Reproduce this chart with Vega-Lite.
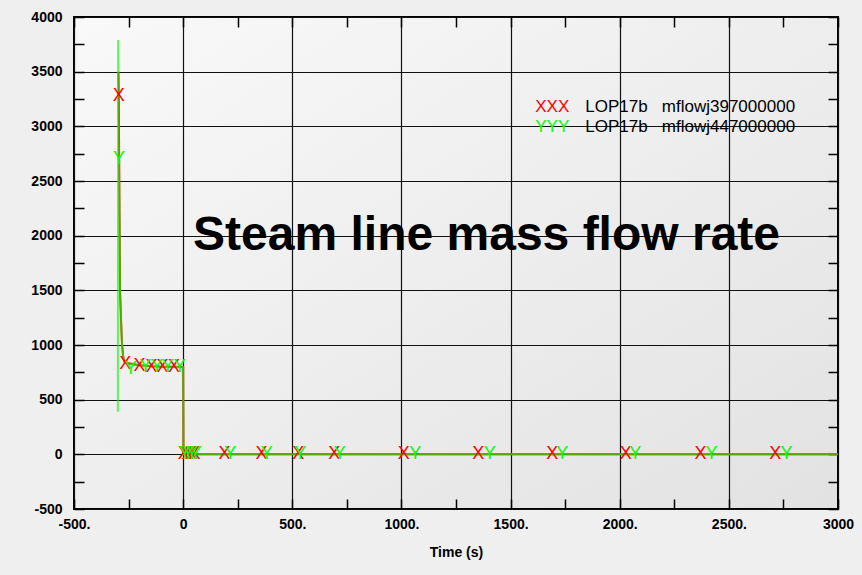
{
  "$schema": "https://vega.github.io/schema/vega-lite/v6.json",
  "width": 764,
  "height": 492,
  "autosize": "none",
  "padding": {"left": 74, "top": 17, "right": 24, "bottom": 66},
  "background": "#efefef",
  "config": {
    "font": "Liberation Sans",
    "view": {
      "stroke": "#000000",
      "strokeWidth": 2,
      "fill": {
        "gradient": "linear",
        "x1": 0, "y1": 0, "x2": 1, "y2": 1,
        "stops": [
          {"offset": 0, "color": "#f9f9f9"},
          {"offset": 1, "color": "#e2e2e2"}
        ]
      }
    }
  },
  "datasets": {
    "flow": [
      {"series": "mflowj397000000", "t": -296.5, "w": 3500},
      {"series": "mflowj397000000", "t": -295, "w": 3280},
      {"series": "mflowj397000000", "t": -289, "w": 1480},
      {"series": "mflowj397000000", "t": -284, "w": 1200},
      {"series": "mflowj397000000", "t": -280, "w": 1010},
      {"series": "mflowj397000000", "t": -275, "w": 900},
      {"series": "mflowj397000000", "t": -270, "w": 850},
      {"series": "mflowj397000000", "t": -257, "w": 835},
      {"series": "mflowj397000000", "t": -200, "w": 815},
      {"series": "mflowj397000000", "t": -145, "w": 805},
      {"series": "mflowj397000000", "t": -95, "w": 800},
      {"series": "mflowj397000000", "t": -42, "w": 800},
      {"series": "mflowj397000000", "t": 0, "w": 798},
      {"series": "mflowj397000000", "t": 1.5, "w": 0},
      {"series": "mflowj397000000", "t": 50, "w": 0},
      {"series": "mflowj397000000", "t": 500, "w": 0},
      {"series": "mflowj397000000", "t": 1000, "w": 0},
      {"series": "mflowj397000000", "t": 2000, "w": 0},
      {"series": "mflowj397000000", "t": 3000, "w": 0},
      {"series": "mflowj447000000", "t": -299, "w": 390},
      {"series": "mflowj447000000", "t": -298, "w": 3790},
      {"series": "mflowj447000000", "t": -296.5, "w": 3500},
      {"series": "mflowj447000000", "t": -294, "w": 2700},
      {"series": "mflowj447000000", "t": -289, "w": 1480},
      {"series": "mflowj447000000", "t": -284, "w": 1200},
      {"series": "mflowj447000000", "t": -280, "w": 1010},
      {"series": "mflowj447000000", "t": -275, "w": 900},
      {"series": "mflowj447000000", "t": -270, "w": 850},
      {"series": "mflowj447000000", "t": -240, "w": 825},
      {"series": "mflowj447000000", "t": -172, "w": 810},
      {"series": "mflowj447000000", "t": -120, "w": 803},
      {"series": "mflowj447000000", "t": -70, "w": 800},
      {"series": "mflowj447000000", "t": -15, "w": 799},
      {"series": "mflowj447000000", "t": 0, "w": 798},
      {"series": "mflowj447000000", "t": 1.5, "w": 0},
      {"series": "mflowj447000000", "t": 50, "w": 0},
      {"series": "mflowj447000000", "t": 500, "w": 0},
      {"series": "mflowj447000000", "t": 1000, "w": 0},
      {"series": "mflowj447000000", "t": 2000, "w": 0},
      {"series": "mflowj447000000", "t": 3000, "w": 0}
    ],
    "symbols": [
      {"series": "mflowj397000000", "sym": "X", "t": -295, "w": 3280},
      {"series": "mflowj397000000", "sym": "X", "t": -265, "w": 830},
      {"series": "mflowj397000000", "sym": "X", "t": -200, "w": 810},
      {"series": "mflowj397000000", "sym": "X", "t": -145, "w": 800},
      {"series": "mflowj397000000", "sym": "X", "t": -95, "w": 795},
      {"series": "mflowj397000000", "sym": "X", "t": -42, "w": 795},
      {"series": "mflowj397000000", "sym": "X", "t": 3, "w": 0},
      {"series": "mflowj397000000", "sym": "X", "t": 20, "w": 0},
      {"series": "mflowj397000000", "sym": "X", "t": 37, "w": 0},
      {"series": "mflowj397000000", "sym": "X", "t": 52, "w": 0},
      {"series": "mflowj397000000", "sym": "X", "t": 189, "w": 0},
      {"series": "mflowj397000000", "sym": "X", "t": 359, "w": 0},
      {"series": "mflowj397000000", "sym": "X", "t": 527, "w": 0},
      {"series": "mflowj397000000", "sym": "X", "t": 692, "w": 0},
      {"series": "mflowj397000000", "sym": "X", "t": 1011, "w": 0},
      {"series": "mflowj397000000", "sym": "X", "t": 1352, "w": 0},
      {"series": "mflowj397000000", "sym": "X", "t": 1691, "w": 0},
      {"series": "mflowj397000000", "sym": "X", "t": 2028, "w": 0},
      {"series": "mflowj397000000", "sym": "X", "t": 2370, "w": 0},
      {"series": "mflowj397000000", "sym": "X", "t": 2712, "w": 0},
      {"series": "mflowj447000000", "sym": "Y", "t": -294, "w": 2700},
      {"series": "mflowj447000000", "sym": "Y", "t": -240, "w": 780},
      {"series": "mflowj447000000", "sym": "Y", "t": -172, "w": 800},
      {"series": "mflowj447000000", "sym": "Y", "t": -120, "w": 798},
      {"series": "mflowj447000000", "sym": "Y", "t": -70, "w": 796},
      {"series": "mflowj447000000", "sym": "Y", "t": -15, "w": 795},
      {"series": "mflowj447000000", "sym": "Y", "t": 8, "w": 0},
      {"series": "mflowj447000000", "sym": "Y", "t": 25, "w": 0},
      {"series": "mflowj447000000", "sym": "Y", "t": 42, "w": 0},
      {"series": "mflowj447000000", "sym": "Y", "t": 58, "w": 0},
      {"series": "mflowj447000000", "sym": "Y", "t": 216, "w": 0},
      {"series": "mflowj447000000", "sym": "Y", "t": 383, "w": 0},
      {"series": "mflowj447000000", "sym": "Y", "t": 536, "w": 0},
      {"series": "mflowj447000000", "sym": "Y", "t": 718, "w": 0},
      {"series": "mflowj447000000", "sym": "Y", "t": 1063, "w": 0},
      {"series": "mflowj447000000", "sym": "Y", "t": 1405, "w": 0},
      {"series": "mflowj447000000", "sym": "Y", "t": 1737, "w": 0},
      {"series": "mflowj447000000", "sym": "Y", "t": 2071, "w": 0},
      {"series": "mflowj447000000", "sym": "Y", "t": 2421, "w": 0},
      {"series": "mflowj447000000", "sym": "Y", "t": 2764, "w": 0}
    ],
    "key": [
      {"series": "mflowj397000000", "sym": "XXX", "label": "LOP17b\u00a0\u00a0\u00a0mflowj397000000", "t": 1801, "w": 3175},
      {"series": "mflowj447000000", "sym": "YYY", "label": "LOP17b\u00a0\u00a0\u00a0mflowj447000000", "t": 1801, "w": 2990}
    ],
    "heading": [
      {"text": "Steam line mass flow rate", "t": 1390, "w": 2000}
    ]
  },
  "resolve": {"axis": {"x": "independent", "y": "independent"}},
  "layer": [
    {
      "data": {"name": "flow"},
      "transform": [{"filter": "datum.series === 'mflowj397000000'"}],
      "mark": {"type": "line", "strokeWidth": 2, "interpolate": "linear"},
      "encoding": {
        "x": {
          "field": "t", "type": "quantitative",
          "scale": {"domain": [-500, 3000], "nice": false, "zero": false},
          "axis": {
            "orient": "bottom",
            "values": [-500, -250, 0, 250, 500, 750, 1000, 1250, 1500, 1750, 2000, 2250, 2500, 2750, 3000],
            "labelExpr": "datum.value % 500 !== 0 ? '' : ((datum.value === 0 || datum.value === 3000) ? '' + datum.value : datum.value + '.')",
            "labelFlush": false,
            "labelOverlap": false,
            "labelFont": "Liberation Sans",
            "labelFontWeight": "bold",
            "labelFontSize": 14,
            "labelColor": "#000000",
            "labelPadding": 18,
            "tickSize": -10,
            "tickColor": "#000000",
            "tickWidth": 1.5,
            "domain": false,
            "grid": true,
            "gridColor": "#111111",
            "gridWidth": 1.2,
            "gridOpacity": {"condition": {"test": "datum.value % 500 === 0", "value": 1}, "value": 0},
            "title": "Time (s)",
            "titleFont": "Liberation Sans",
            "titleFontSize": 14,
            "titleFontWeight": "bold",
            "titleColor": "#000000",
            "titlePadding": 14
          }
        },
        "y": {
          "field": "w", "type": "quantitative",
          "scale": {"domain": [-500, 4000], "nice": false, "zero": false},
          "axis": {
            "orient": "left",
            "values": [-500, -250, 0, 250, 500, 750, 1000, 1250, 1500, 1750, 2000, 2250, 2500, 2750, 3000, 3250, 3500, 3750, 4000],
            "labelExpr": "datum.value % 500 !== 0 ? '' : '' + datum.value",
            "labelFlush": false,
            "labelOverlap": false,
            "labelFont": "Liberation Sans",
            "labelFontWeight": "bold",
            "labelFontSize": 14,
            "labelColor": "#000000",
            "labelPadding": 22,
            "tickSize": -10,
            "tickColor": "#000000",
            "tickWidth": 1.5,
            "domain": false,
            "grid": true,
            "gridColor": "#111111",
            "gridWidth": 1.2,
            "gridOpacity": {"condition": {"test": "datum.value % 500 === 0", "value": 1}, "value": 0},
            "title": null
          }
        },
        "color": {
          "field": "series", "type": "nominal",
          "scale": {"domain": ["mflowj397000000", "mflowj447000000"], "range": ["#ff0000", "#00ff00"]},
          "legend": null
        }
      }
    },
    {
      "data": {"name": "flow"},
      "transform": [{"filter": "datum.series === 'mflowj447000000'"}],
      "mark": {"type": "line", "strokeWidth": 2, "opacity": 0.65, "interpolate": "linear"},
      "encoding": {
        "x": {
          "field": "t", "type": "quantitative",
          "axis": {
            "orient": "top",
            "values": [-500, -250, 0, 250, 500, 750, 1000, 1250, 1500, 1750, 2000, 2250, 2500, 2750, 3000],
            "labels": false,
            "tickSize": -10,
            "tickColor": "#000000",
            "tickWidth": 1.5,
            "domain": false,
            "grid": false,
            "title": null
          }
        },
        "y": {
          "field": "w", "type": "quantitative",
          "axis": {
            "orient": "right",
            "values": [-500, -250, 0, 250, 500, 750, 1000, 1250, 1500, 1750, 2000, 2250, 2500, 2750, 3000, 3250, 3500, 3750, 4000],
            "labels": false,
            "tickSize": -10,
            "tickColor": "#000000",
            "tickWidth": 1.5,
            "domain": false,
            "grid": false,
            "title": null
          }
        },
        "color": {"field": "series", "type": "nominal", "legend": null}
      }
    },
    {
      "data": {"name": "symbols"},
      "mark": {"type": "text", "font": "Liberation Sans", "fontSize": 18, "baseline": "middle", "align": "center"},
      "encoding": {
        "x": {"field": "t", "type": "quantitative", "axis": null},
        "y": {"field": "w", "type": "quantitative", "axis": null},
        "text": {"field": "sym"},
        "color": {"field": "series", "type": "nominal", "legend": null}
      }
    },
    {
      "data": {"name": "key"},
      "mark": {"type": "text", "font": "Liberation Sans", "fontSize": 17, "baseline": "middle", "align": "right", "dx": -7},
      "encoding": {
        "x": {"field": "t", "type": "quantitative", "axis": null},
        "y": {"field": "w", "type": "quantitative", "axis": null},
        "text": {"field": "sym"},
        "color": {"field": "series", "type": "nominal", "legend": null}
      }
    },
    {
      "data": {"name": "key"},
      "mark": {"type": "text", "font": "Liberation Sans", "fontSize": 17, "baseline": "middle", "align": "left", "dx": 9, "color": "#000000"},
      "encoding": {
        "x": {"field": "t", "type": "quantitative", "axis": null},
        "y": {"field": "w", "type": "quantitative", "axis": null},
        "text": {"field": "label"}
      }
    },
    {
      "data": {"name": "heading"},
      "mark": {"type": "text", "font": "Liberation Sans", "fontSize": 48, "fontWeight": "bold", "baseline": "middle", "align": "center", "color": "#000000"},
      "encoding": {
        "x": {"field": "t", "type": "quantitative", "axis": null},
        "y": {"field": "w", "type": "quantitative", "axis": null},
        "text": {"field": "text"}
      }
    }
  ]
}
